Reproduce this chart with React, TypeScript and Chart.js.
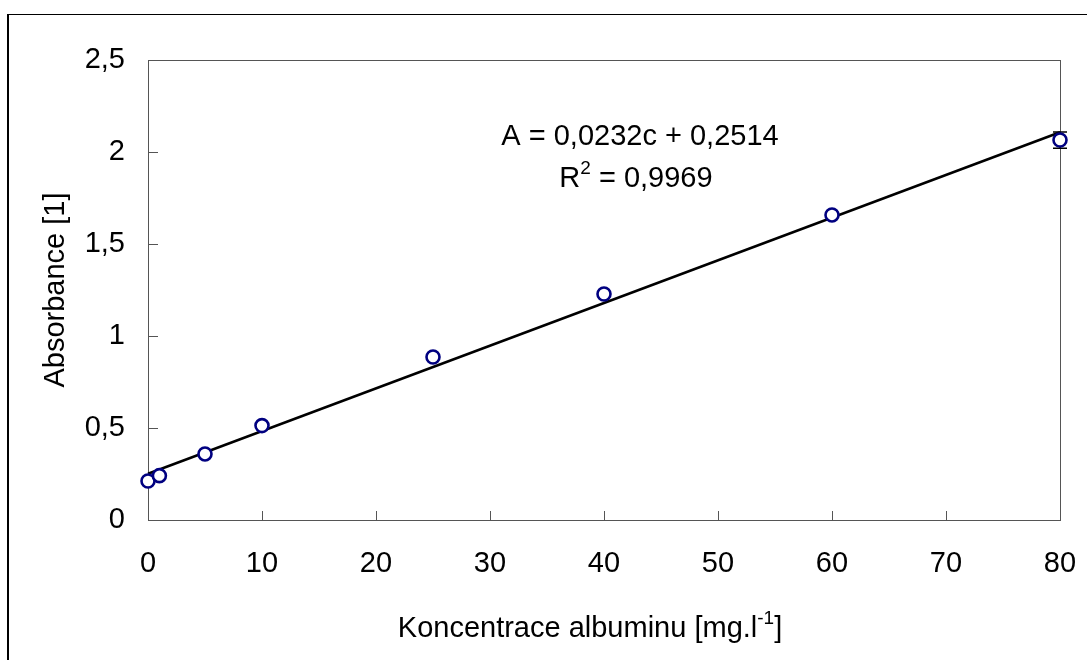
import React, { useEffect, useRef } from "react";
import { Chart, registerables } from "chart.js";

Chart.register(...registerables);

// ---- data ----
const concentrations = [0, 1, 5, 10, 25, 40, 60, 80];
const absorbances = [0.212, 0.241, 0.359, 0.513, 0.886, 1.228, 1.658, 2.065];
const errors = [0, 0, 0, 0, 0, 0, 0, 0.044];
const slope = 0.0232;
const intercept = 0.2514;
const rSquared = 0.9969;
const trendX = [0, 80];
const trendY = [0.2514, 2.1074];
const xTicks = [0, 10, 20, 30, 40, 50, 60, 70, 80];
const xTickLabels = ["0", "10", "20", "30", "40", "50", "60", "70", "80"];
const yTicks = [0, 0.5, 1, 1.5, 2, 2.5];
const yTickLabels = ["0", "0,5", "1", "1,5", "2", "2,5"];
const xTitle = ["Koncentrace albuminu [mg.l", "-1", "]"];
const yTitle = "Absorbance [1]";

const FONT = "'Liberation Sans', Arial, sans-serif";
const CANVAS_W = 1078;
const CANVAS_H = 645;

const fmt = (v: number) => String(v).replace(".", ",");

type Part = { text: string; size: number; rise: number };

function drawRich(ctx: CanvasRenderingContext2D, parts: Part[], cx: number, baseline: number) {
  let total = 0;
  parts.forEach((p) => {
    ctx.font = `${p.size}px ${FONT}`;
    total += ctx.measureText(p.text).width;
  });
  let x = cx - total / 2;
  ctx.textAlign = "left";
  ctx.textBaseline = "alphabetic";
  parts.forEach((p) => {
    ctx.font = `${p.size}px ${FONT}`;
    ctx.fillText(p.text, x, baseline - p.rise);
    x += ctx.measureText(p.text).width;
  });
}

const framePlugin = {
  id: "framePlugin",
  beforeDatasetsDraw(chart: any) {
    const { ctx, chartArea: a, scales } = chart;
    const L = Math.round(a.left);
    const T = Math.round(a.top);
    const R = Math.round(a.right);
    const B = Math.round(a.bottom);
    ctx.save();
    ctx.strokeStyle = "#555555";
    ctx.lineWidth = 1;
    ctx.strokeRect(L + 0.5, T + 0.5, R - L, B - T);
    ctx.beginPath();
    xTicks.forEach((v) => {
      const px = Math.round(scales.x.getPixelForValue(v)) + 0.5;
      ctx.moveTo(px, B + 0.5);
      ctx.lineTo(px, B - 9);
    });
    yTicks.forEach((v) => {
      const py = Math.round(scales.y.getPixelForValue(v)) + 0.5;
      ctx.moveTo(L + 0.5, py);
      ctx.lineTo(L + 10, py);
    });
    ctx.stroke();

    // error bars
    ctx.strokeStyle = "#000000";
    ctx.lineWidth = 1.5;
    ctx.beginPath();
    concentrations.forEach((c, i) => {
      const e = errors[i];
      if (!e) return;
      const px = scales.x.getPixelForValue(c);
      const y1 = scales.y.getPixelForValue(absorbances[i] + e);
      const y2 = scales.y.getPixelForValue(absorbances[i] - e);
      ctx.moveTo(px, y1);
      ctx.lineTo(px, y2);
      ctx.moveTo(px - 7, y1);
      ctx.lineTo(px + 7, y1);
      ctx.moveTo(px - 7, y2);
      ctx.lineTo(px + 7, y2);
    });
    ctx.stroke();
    ctx.restore();
  },
  afterDraw(chart: any) {
    const { ctx } = chart;
    ctx.save();
    ctx.fillStyle = "#000000";
    // x title
    drawRich(
      ctx,
      [
        { text: xTitle[0], size: 29, rise: 0 },
        { text: xTitle[1], size: 19, rise: 13 },
        { text: xTitle[2], size: 29, rise: 0 },
      ],
      581,
      622
    );
    // y title
    ctx.save();
    ctx.translate(55, 275);
    ctx.rotate(-Math.PI / 2);
    ctx.font = `29px ${FONT}`;
    ctx.textAlign = "center";
    ctx.textBaseline = "alphabetic";
    ctx.fillText(yTitle, 0, 0);
    ctx.restore();
    // equation
    drawRich(ctx, [{ text: `A = ${fmt(slope)}c + ${fmt(intercept)}`, size: 29, rise: 0 }], 631, 130);
    drawRich(
      ctx,
      [
        { text: "R", size: 29, rise: 0 },
        { text: "2", size: 19, rise: 13 },
        { text: ` = ${fmt(rSquared)}`, size: 29, rise: 0 },
      ],
      627,
      172
    );
    ctx.restore();
  },
};

export default function App() {
  const ref = useRef<HTMLCanvasElement | null>(null);

  useEffect(() => {
    if (!ref.current) return;
    const tickFont = { family: FONT, size: 29 };
    const chart = new Chart(ref.current, {
      type: "scatter",
      data: {
        datasets: [
          {
            label: "Absorbance",
            data: concentrations.map((c, i) => ({ x: c, y: absorbances[i] })),
            pointStyle: "circle",
            pointRadius: 6.5,
            pointBorderWidth: 2.6,
            pointBorderColor: "#000080",
            pointBackgroundColor: "#ffffff",
            showLine: false,
            clip: false as any,
            order: 0,
          },
          {
            label: "Trend",
            data: trendX.map((x, i) => ({ x, y: trendY[i] })),
            showLine: true,
            borderColor: "#000000",
            borderWidth: 2.5,
            pointRadius: 0,
            clip: false as any,
            order: 1,
          },
        ],
      },
      options: {
        animation: false,
        responsive: false,
        layout: { padding: { left: 0, top: 45, right: 27, bottom: 0 } },
        plugins: { legend: { display: false }, tooltip: { enabled: false }, title: { display: false } },
        scales: {
          x: {
            type: "linear",
            min: 0,
            max: 80,
            afterBuildTicks: (s: any) => {
              s.ticks = xTicks.map((v) => ({ value: v }));
            },
            afterFit: (s: any) => {
              s.height = 140;
            },
            ticks: {
              autoSkip: false,
              maxRotation: 0,
              padding: 0,
              color: "#000000",
              font: tickFont,
              callback: (v: any) => xTickLabels[xTicks.indexOf(Number(v))],
            },
            grid: {
              display: true,
              drawOnChartArea: false,
              drawTicks: true,
              tickLength: 27,
              color: "rgba(0,0,0,0)",
              tickColor: "rgba(0,0,0,0)",
            },
            border: { display: false },
          },
          y: {
            type: "linear",
            min: 0,
            max: 2.5,
            afterBuildTicks: (s: any) => {
              s.ticks = yTicks.map((v) => ({ value: v }));
            },
            afterFit: (s: any) => {
              s.width = 139;
            },
            ticks: {
              autoSkip: false,
              padding: 23,
              color: "#000000",
              font: tickFont,
              callback: (v: any) => yTickLabels[yTicks.indexOf(Number(v))],
            },
            grid: { display: false, drawTicks: false },
            border: { display: false },
          },
        },
      },
      plugins: [framePlugin],
    } as any);
    return () => chart.destroy();
  }, []);

  return (
    <div
      style={{
        position: "fixed",
        left: 7,
        top: 14,
        width: CANVAS_W + 2,
        height: CANVAS_H + 1,
        boxSizing: "border-box",
        borderLeft: "2px solid #000",
        borderTop: "1px solid #000",
        background: "#fff",
      }}
    >
      <canvas
        ref={ref}
        width={CANVAS_W}
        height={CANVAS_H}
        style={{ display: "block", width: CANVAS_W, height: CANVAS_H }}
      />
    </div>
  );
}
